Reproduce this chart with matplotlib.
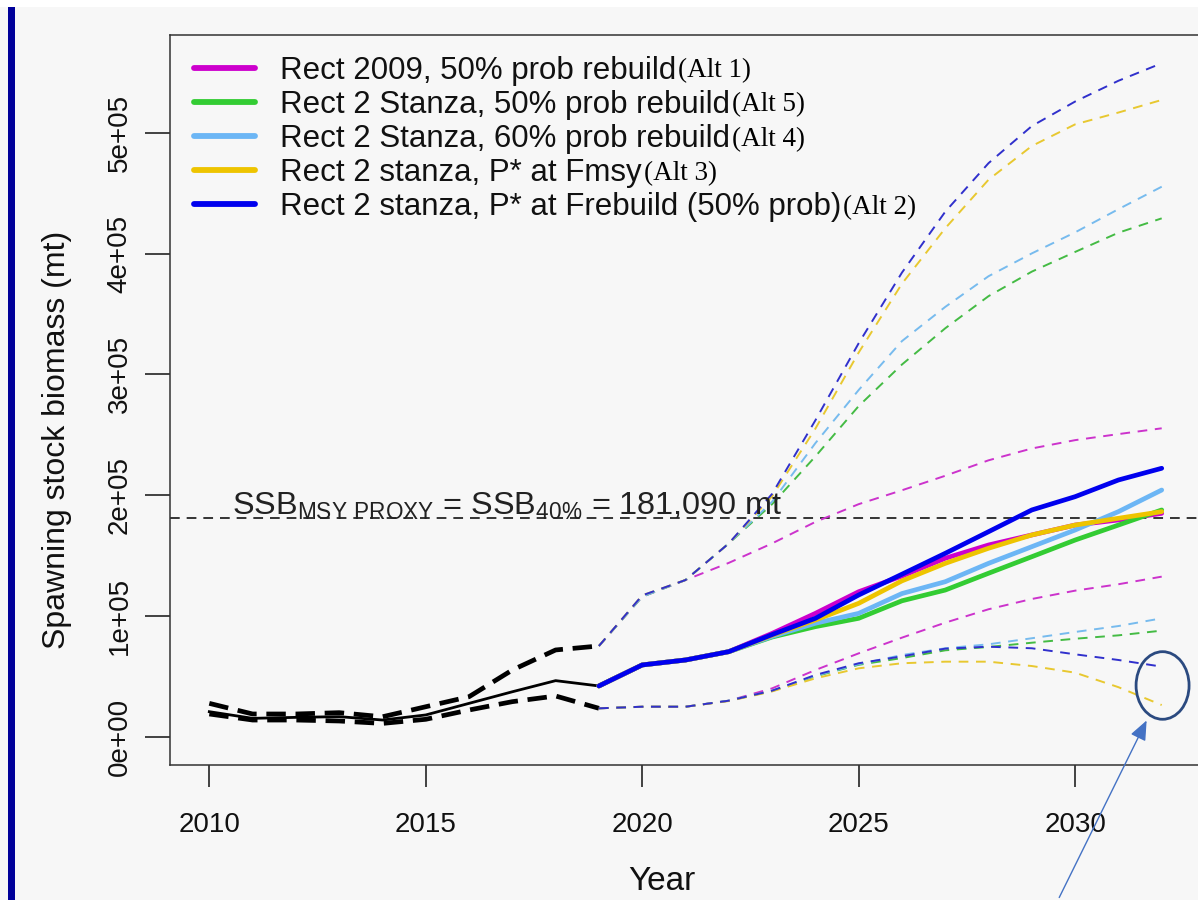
import matplotlib
matplotlib.use('Agg')
import matplotlib.pyplot as plt
from matplotlib.patches import Ellipse, Rectangle

plt.rcParams['font.family'] = ['Liberation Sans', 'DejaVu Sans']
plt.rcParams['mathtext.fontset'] = 'custom'
plt.rcParams['mathtext.rm'] = 'Liberation Sans'
plt.rcParams['lines.scale_dashes'] = False

# historical estimate and interval, 2010-2019
hist_years = list(range(2010, 2020))
hist_ssb = [20700, 15200, 16000, 16600, 13800, 18000, 27600, 37200, 46400, 42000]
hist_hi = [27600, 18800, 18800, 19900, 16500, 24800, 33100, 55200, 71800, 75100]
hist_lo = [18800, 13800, 13800, 13000, 11000, 14400, 22100, 29000, 33700, 23500]

# projections, 2019-2032
proj_years = list(range(2019, 2033))
alt1_med = [42000, 59400, 63500, 70400, 85500, 102100, 120000, 133000, 147700, 158700, 167000, 175200, 179400, 184900]
alt5_med = [42000, 59400, 63500, 70400, 82500, 91100, 98000, 112500, 121400, 135300, 149000, 162800, 175200, 187700]
alt4_med = [42000, 59400, 63500, 70400, 83000, 93900, 102100, 118500, 128300, 143500, 157300, 171100, 186300, 204200]
alt3_med = [42000, 59400, 63500, 70400, 84000, 96600, 110400, 129000, 143500, 156000, 167000, 175200, 180800, 186300]
alt2_med = [42000, 59400, 63500, 70400, 84500, 98000, 117300, 134500, 151800, 169700, 187700, 198700, 212500, 222200]

alt1_hi = [75100, 115900, 129700, 143900, 160000, 177800, 192500, 204000, 216000, 228800, 238600, 245500, 250500, 255300]
alt5_hi = [75100, 115900, 129700, 160000, 192500, 232000, 273700, 308100, 338100, 364700, 385000, 401300, 417200, 429100]
alt4_hi = [75100, 115900, 129700, 160000, 194500, 243000, 287000, 327500, 355800, 381200, 400100, 417500, 436700, 455300]
alt3_hi = [75100, 117000, 129700, 160000, 199000, 255000, 318000, 375000, 420900, 461100, 489000, 506900, 516700, 527100]
alt2_hi = [75100, 117000, 129700, 160000, 201000, 261900, 325700, 384200, 434600, 474800, 505500, 525800, 543000, 557500]

alt1_lo = [23500, 24800, 24800, 29800, 40000, 55200, 69000, 82000, 94400, 105500, 114000, 120900, 126200, 132500]
alt5_lo = [23500, 24800, 24800, 29800, 37800, 50000, 59500, 65100, 71500, 74300, 77800, 81100, 83900, 87800]
alt4_lo = [23500, 24800, 24800, 29800, 38100, 50500, 60000, 67600, 73200, 76500, 81500, 86700, 91600, 98000]
alt3_lo = [23500, 24800, 24800, 29500, 37500, 48300, 56600, 60800, 62100, 62100, 58500, 53000, 41000, 26200]
alt2_lo = [23500, 24800, 24800, 29800, 38100, 51100, 60800, 66500, 72900, 74500, 73200, 68200, 63500, 58000]

ssb_target = 181090

labels = ['Rect 2009, 50% prob rebuild',
          'Rect 2 Stanza, 50% prob rebuild',
          'Rect 2 Stanza, 60% prob rebuild',
          'Rect 2 stanza, P* at Fmsy',
          'Rect 2 stanza, P* at Frebuild (50% prob)']
alt_tags = ['(Alt 1)', '(Alt 5)', '(Alt 4)', '(Alt 3)', '(Alt 2)']
colors = ['#cd00cd', '#33cc33', '#6cb6f5', '#eec400', '#0000ee']
dash_colors = ['#cc33cc', '#44bb44', '#77bbee', '#e8c830', '#3030cc']

fig = plt.figure(figsize=(11.98, 9), dpi=100)
fig.patch.set_facecolor('#f7f7f7')
ax = fig.add_axes([170 / 1198, 135 / 900, 1035 / 1198, 730 / 900])
ax.set_facecolor('#f7f7f7')

# white strip on top and the dark blue bar on the left
fig.patches.append(Rectangle((0, 893 / 900), 1, 7 / 900, transform=fig.transFigure,
                             facecolor='white', edgecolor='none', zorder=0))
fig.patches.append(Rectangle((7.5 / 1198, 0), 7.5 / 1198, 893 / 900, transform=fig.transFigure,
                             facecolor='#00009a', edgecolor='none', zorder=5))

# target line and label
ax.axhline(ssb_target, color='black', lw=1.1, dashes=(7, 5))
ax.text(2010.52, 183500, r'SSB$_{\mathregular{MSY\ PROXY}}$ = SSB$_{\mathregular{40\%}}$ = 181,090 mt',
        fontsize=23.3, color='#222222', va='baseline', ha='left')

# historical
ax.plot(hist_years, hist_hi, color='black', lw=3.4, dashes=(14, 7))
ax.plot(hist_years, hist_lo, color='black', lw=3.4, dashes=(14, 7))
ax.plot(hist_years, hist_ssb, color='black', lw=2.0)

his = [alt1_hi, alt5_hi, alt4_hi, alt3_hi, alt2_hi]
los = [alt1_lo, alt5_lo, alt4_lo, alt3_lo, alt2_lo]
meds = [alt1_med, alt5_med, alt4_med, alt3_med, alt2_med]

for hi, lo, c in zip(his, los, dash_colors):
    ax.plot(proj_years, hi, color=c, lw=1.4, dashes=(7, 5.5))
    ax.plot(proj_years, lo, color=c, lw=1.4, dashes=(7, 5.5))

handles = []
for med, c, lab in zip(meds, colors, labels):
    h, = ax.plot(proj_years, med, color=c, lw=3.4, solid_capstyle='round', label=lab)
    handles.append(h)

ax.set_xlim(2009.092, 2033.0)
ax.set_ylim(-23430, 580880)
ax.set_xticks([2010, 2015, 2020, 2025, 2030])
ax.set_yticks([0, 100000, 200000, 300000, 400000, 500000])
ax.set_yticklabels(['0e+00', '1e+05', '2e+05', '3e+05', '4e+05', '5e+05'], rotation=90, va='center')
ax.tick_params(axis='x', length=16, width=1.1, pad=18, labelsize=20, colors='#111111')
ax.tick_params(axis='y', length=18, width=1.1, pad=9, labelsize=20, colors='#111111')
for s in ['left', 'bottom', 'top']:
    ax.spines[s].set_linewidth(1.1)
    ax.spines[s].set_color('#333333')
ax.spines['right'].set_visible(False)

ax.set_xlabel('Year', fontsize=24, color='#111111')
ax.xaxis.set_label_coords((662 - 170) / 1035, (765 - 866) / 730)
ax.set_ylabel('Spawning stock biomass (mt)', fontsize=23, color='#111111')
ax.yaxis.set_label_coords((72 - 170) / 1035, (765 - 440) / 730)

leg = ax.legend(handles=handles, loc='upper left', bbox_to_anchor=((194 - 170) / 1035, (765 - 56) / 730),
                frameon=False, fontsize=22.5, handlelength=1.95, handletextpad=0.8,
                labelspacing=0.13, borderpad=0, borderaxespad=0)
for line in leg.get_lines():
    line.set_linewidth(4.2)
for t in leg.get_texts():
    t.set_color('#111111')

# "(Alt n)" tags follow each legend entry
fig.canvas.draw()
for t, tag in zip(leg.get_texts(), alt_tags):
    bb = t.get_window_extent()
    fig.text((bb.x1 + 2) / 1198, ((bb.y0 + bb.y1) / 2) / 900, tag, ha='left', va='center',
             fontsize=19.5, family='Liberation Serif', color='black')

# callout on the end of the lower bounds
ax.add_patch(Ellipse((2032.02, 42400), 53 / 43.29, 67.6 / 120.8 * 1e5, fill=False,
                     edgecolor='#2b4a80', lw=2.0, clip_on=False, zorder=6))
ax.annotate('', xy=(2031.68, 15500), xycoords='data', xytext=(1058, 0), textcoords='figure pixels',
            arrowprops=dict(arrowstyle='-|>,head_length=1.2,head_width=0.5', color='#4472c4', lw=1.0),
            annotation_clip=False)

fig.savefig('out.png', dpi=100, facecolor=fig.get_facecolor())
